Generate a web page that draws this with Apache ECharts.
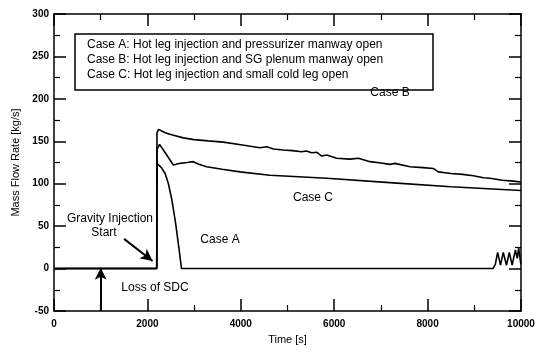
<!DOCTYPE html>
<html>
<head>
<meta charset="utf-8">
<script src="https://cdn.jsdelivr.net/npm/echarts@6/dist/echarts.min.js"></script>
<style>
  html, body { margin: 0; padding: 0; background: #fff; }
  #main { width: 548px; height: 353px; }
</style>
</head>
<body>
<div id="main"></div>
<script>
// 数据 (time [s], mass flow rate [kg/s])
var caseA = [[0,0],[2200,0],[2205,124],[2240,125],[2300,119],[2380,112],[2450,100],[2520,82],[2600,55],[2680,22],[2730,0],
  [9400,0],[9450,5],[9500,19],[9560,4],[9620,19],[9690,4],[9750,19],[9810,4],[9880,22],[9920,12],[9950,24],[9990,8],[10000,5]];
var caseB = [[0,0],[2200,0],[2205,160],[2240,164],[2380,160],[2500,158],[2770,154],[3000,152],[3300,150.5],[3625,149],
  [4000,146],[4411,142.4],[4554,143.6],[4700,141],[4911,139.7],[5100,139],[5304,137.7],[5400,138.5],[5518,136.5],
  [5630,137],[5732,132.6],[5840,133.8],[6053,130],[6338,129],[6517,130],[6767,126],[7000,124.5],[7195,122.8],[7300,124],
  [7623,120],[7900,119],[8122,118],[8230,114],[8500,112],[8750,111],[8979,109.4],[9200,107],[9336,106.4],[9600,104],
  [9835,103],[10000,102]];
var caseC = [[0,0],[2200,0],[2205,140],[2260,146.4],[2300,145],[2400,135],[2555,122],[2698,124],[2850,125],[2983,126],
  [3100,123],[3270,120],[3600,117],[3983,114],[4625,110],[5840,106.4],[7266,101],[8500,96.5],[10000,92]];
var legendLines = [
  'Case A: Hot leg injection and pressurizer manway open',
  'Case B: Hot leg injection and SG plenum manway open',
  'Case C: Hot leg injection and small cold leg open'
];
var xTicks = [0, 2000, 4000, 6000, 8000, 10000];
var yTicks = [-50, 0, 50, 100, 150, 200, 250, 300];

var chart = echarts.init(document.getElementById('main'));

function axisX(pos, showLabel) {
  return {
    type: 'value', position: pos, min: xTicks[0], max: xTicks[xTicks.length - 1], interval: 2000,
    name: showLabel ? 'Time [s]' : '', nameLocation: 'middle', nameGap: 23,
    nameTextStyle: { color: '#000', fontSize: 11, fontFamily: 'Liberation Sans' },
    axisLine: { onZero: false, lineStyle: { color: '#000', width: 1.5 } },
    axisTick: { inside: true, length: 12, lineStyle: { color: '#000', width: 1.5 } },
    minorTick: { show: true, splitNumber: 2, length: 6, lineStyle: { color: '#000', width: 1.2 } },
    axisLabel: { show: showLabel, color: '#000', fontSize: 10, fontWeight: 'bold', fontFamily: 'Liberation Sans', margin: 8,
      formatter: function (v) { return String(v); } },
    splitLine: { show: false }
  };
}
function axisY(pos, showLabel) {
  return {
    type: 'value', position: pos, min: yTicks[0], max: yTicks[yTicks.length - 1], interval: 50,
    name: showLabel ? 'Mass Flow Rate [kg/s]' : '', nameLocation: 'middle', nameGap: 27,
    nameTextStyle: { color: '#000', fontSize: 11, fontFamily: 'Liberation Sans' },
    axisLine: { show: true, onZero: false, lineStyle: { color: '#000', width: 1.5 } },
    axisTick: { show: true, inside: true, length: 12, lineStyle: { color: '#000', width: 1.5 } },
    minorTick: { show: true, splitNumber: 2, length: 6, lineStyle: { color: '#000', width: 1.2 } },
    axisLabel: { show: showLabel, color: '#000', fontSize: 10, fontWeight: 'bold', fontFamily: 'Liberation Sans', margin: 5 },
    splitLine: { show: false }
  };
}

function caseSeries(name, data) {
  return {
    name: name, type: 'line', data: data, showSymbol: false, symbol: 'none',
    lineStyle: { color: '#000', width: 1.6 }, animation: false
  };
}

var txtStyle = { fill: '#000', fontSize: 12, fontFamily: 'Liberation Sans' };

var option = {
  animation: false,
  grid: { left: 54, right: 27, top: 14, bottom: 42 },
  xAxis: [axisX('bottom', true), axisX('top', false)],
  yAxis: [axisY('left', true), axisY('right', false)],
  series: [
    caseSeries('Case A', caseA),
    caseSeries('Case B', caseB),
    caseSeries('Case C', caseC),
    {
      type: 'line', data: [], silent: true,
      markLine: {
        silent: true, symbol: ['none', 'arrow'], symbolSize: [9, 12],
        lineStyle: { color: '#000', width: 2, type: 'solid' }, label: { show: false },
        data: [
          [{ coord: [1000, -50] }, { coord: [1000, 1] }],
          [{ coord: [1500, 35] }, { coord: [2110, 9] }]
        ]
      }
    }
  ],
  graphic: [
    { type: 'rect', shape: { x: 75, y: 34, width: 358, height: 56 }, style: { fill: '#fff', stroke: '#000', lineWidth: 1.5 } },
    { type: 'text', x: 87, y: 39, style: Object.assign({ text: legendLines[0] }, txtStyle) },
    { type: 'text', x: 87, y: 54, style: Object.assign({ text: legendLines[1] }, txtStyle) },
    { type: 'text', x: 87, y: 69, style: Object.assign({ text: legendLines[2] }, txtStyle) },
    { type: 'text', x: 110, y: 213, style: Object.assign({ text: 'Gravity Injection', textAlign: 'center' }, txtStyle) },
    { type: 'text', x: 104, y: 227, style: Object.assign({ text: 'Start', textAlign: 'center' }, txtStyle) },
    { type: 'text', x: 155, y: 282, style: Object.assign({ text: 'Loss of SDC', textAlign: 'center' }, txtStyle) },
    { type: 'text', x: 220, y: 234, style: Object.assign({ text: 'Case A', textAlign: 'center' }, txtStyle) },
    { type: 'text', x: 390, y: 87, style: Object.assign({ text: 'Case B', textAlign: 'center' }, txtStyle) },
    { type: 'text', x: 313, y: 192, style: Object.assign({ text: 'Case C', textAlign: 'center' }, txtStyle) }
  ]
};
chart.setOption(option);
</script>
</body>
</html>
